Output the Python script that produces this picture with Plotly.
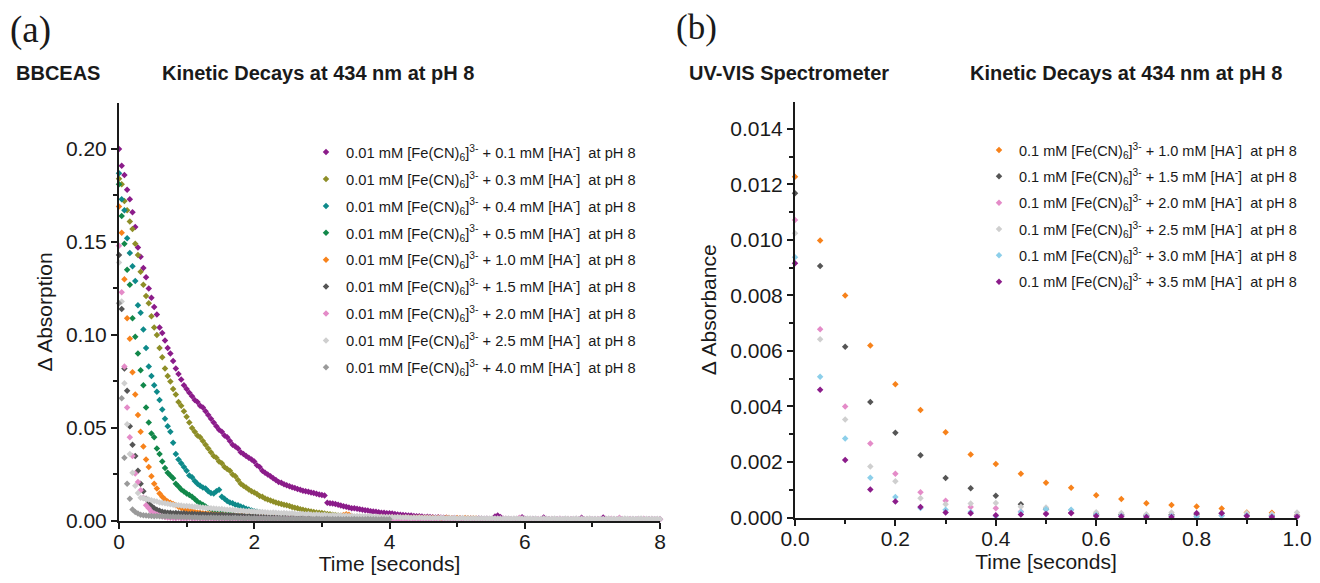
import plotly.graph_objects as go

# ---------------- Panel (a): BBCEAS, sampled every 0.04 s ----------------
DT_A = 0.04

a_labels = ["0.1", "0.3", "0.4", "0.5", "1.0", "1.5", "2.0", "2.5", "4.0"]
a_colors = ["#8B1C8A", "#8E8E27", "#0E8A8A", "#12884A", "#F7821B",
            "#555555", "#E48BC8", "#CFCFCF", "#9A9A9A"]

a_01 = [0.200, 0.191, 0.186, 0.178, 0.173, 0.166, 0.158, 0.147, 0.142, 0.136,
        0.131, 0.125, 0.120, 0.115, 0.111, 0.104, 0.101, 0.097, 0.093, 0.090,
        0.086, 0.082, 0.079, 0.076, 0.073, 0.071, 0.069, 0.067, 0.065, 0.064,
        0.062, 0.061, 0.059, 0.057, 0.055, 0.053, 0.051, 0.049, 0.048, 0.046,
        0.045, 0.043, 0.041, 0.040, 0.039, 0.037, 0.036, 0.035, 0.034, 0.033,
        0.032, 0.030, 0.029, 0.027, 0.026, 0.025, 0.024, 0.023, 0.022, 0.021,
        0.0205, 0.0198, 0.0192, 0.0187, 0.0181, 0.0177, 0.0172, 0.0168, 0.0163, 0.0160,
        0.0157, 0.0153, 0.0150, 0.0146, 0.0143, 0.0140, 0.0137, 0.0098, 0.0096, 0.0094,
        0.0091, 0.0088, 0.0083, 0.0079, 0.0076, 0.0072, 0.0069, 0.0068, 0.0066, 0.0063,
        0.0060, 0.0058, 0.0056, 0.0053, 0.0051, 0.0050, 0.0047, 0.0045, 0.0044, 0.0042,
        0.0041, 0.0040, 0.0037, 0.0035, 0.0034, 0.0032, 0.0031, 0.0030, 0.0029, 0.0027,
        0.0026, 0.0025, 0.0024, 0.0022, 0.0023, 0.0021, 0.0020, 0.0019, 0.0020, 0.0018,
        0.0017, 0.0018, 0.0016, 0.0015, 0.0016, 0.0014, 0.0015, 0.0013, 0.0014, 0.0012,
        0.0013, 0.0012, 0.0011, 0.0013, 0.0012, 0.0011, 0.0012, 0.0010, 0.0011, 0.0024,
        0.0030, 0.0021, 0.0012, 0.0010, 0.0011, 0.0009,
        0.0010, 0.0009, 0.0011, 0.0020, 0.0012, 0.0010, 0.0009, 0.0011, 0.0010, 0.0008,
        0.0010, 0.0019, 0.0011, 0.0009, 0.0010, 0.0008, 0.0009, 0.0011, 0.0010, 0.0009,
        0.0008, 0.0010, 0.0009, 0.0011, 0.0008, 0.0018, 0.0010, 0.0009, 0.0008, 0.0010,
        0.0009, 0.0008, 0.0010, 0.0019, 0.0011, 0.0009, 0.0008, 0.0009, 0.0010, 0.0008,
        0.0009, 0.0010, 0.0008, 0.0009, 0.0008, 0.0010, 0.0009, 0.0008, 0.0009, 0.0008,
        0.0009, 0.0008, 0.0010, 0.0008, 0.0009]

a_03 = [0.184, 0.181, 0.172, 0.167, 0.161, 0.157, 0.149, 0.143, 0.134, 0.127,
        0.121, 0.117, 0.110, 0.104, 0.100, 0.093, 0.088, 0.082, 0.078, 0.075,
        0.071, 0.068, 0.064, 0.062, 0.059, 0.056, 0.053, 0.050, 0.048, 0.046,
        0.045, 0.043, 0.041, 0.039, 0.037, 0.035, 0.034, 0.032, 0.031, 0.029,
        0.028, 0.027, 0.025, 0.024, 0.022, 0.020, 0.019, 0.018, 0.017, 0.016,
        0.0153, 0.0145, 0.0135, 0.0130, 0.0121, 0.0115, 0.0110, 0.0105, 0.0100, 0.0096,
        0.0092, 0.0088, 0.0084, 0.0080, 0.0075, 0.0071, 0.0068, 0.0063, 0.0060, 0.0057,
        0.0054, 0.0051, 0.0048, 0.0046, 0.0045, 0.0043, 0.0040, 0.0038, 0.0036, 0.0034,
        0.0032, 0.0030, 0.0028, 0.0026, 0.0025, 0.0023, 0.0022]

a_04 = [0.187, 0.173, 0.167, 0.152, 0.144, 0.137, 0.129, 0.116, 0.112, 0.103,
        0.093, 0.083, 0.078, 0.073, 0.0695, 0.065, 0.060, 0.055, 0.051, 0.048,
        0.042, 0.036, 0.033, 0.031, 0.029, 0.027, 0.0245, 0.0235, 0.0215, 0.0200,
        0.0190, 0.0180, 0.0175, 0.0160, 0.0150, 0.0148, 0.0160, 0.0168, 0.0130, 0.0120,
        0.0108, 0.0100, 0.0095, 0.0088, 0.0085, 0.0078, 0.0072, 0.0066, 0.0062, 0.0057,
        0.0053, 0.0050, 0.0047, 0.0044, 0.0040]

a_05 = [0.181, 0.164, 0.149, 0.135, 0.127, 0.109, 0.099, 0.090, 0.081, 0.073,
        0.061, 0.053, 0.047, 0.045, 0.039, 0.036, 0.032, 0.0285, 0.026, 0.0245,
        0.023, 0.020, 0.0185, 0.017, 0.0158, 0.0148, 0.014, 0.013, 0.0118, 0.0105,
        0.0095, 0.0088, 0.0078, 0.0069, 0.0062, 0.0057, 0.0052, 0.0049, 0.0045, 0.0041,
        0.0038, 0.0035, 0.0033, 0.0030, 0.0029, 0.0027, 0.0025, 0.0024, 0.0022, 0.0021,
        0.0020, 0.0019, 0.0018, 0.0018, 0.0016, 0.0017, 0.0015, 0.0014, 0.0015, 0.0013, 0.0012]

a_10 = [0.169, 0.155, 0.130, 0.109, 0.098, 0.080, 0.068, 0.057, 0.048, 0.040,
        0.033, 0.029, 0.024, 0.020, 0.0175, 0.0148, 0.0130, 0.0115, 0.0105, 0.0098,
        0.0092, 0.0085, 0.0077, 0.0070, 0.0066, 0.0062, 0.0056, 0.0052, 0.0049, 0.0046,
        0.0044, 0.0042, 0.0040, 0.0039, 0.0037, 0.0036, 0.0035, 0.0034, 0.0033, 0.0032,
        0.0031, 0.0030, 0.0031, 0.0029, 0.0028, 0.0029, 0.0028, 0.0027, 0.0028, 0.0026,
        0.0027, 0.0025, 0.0026, 0.0027, 0.0025, 0.0024, 0.0026, 0.0025, 0.0023, 0.0024,
        0.0025, 0.0023, 0.0024, 0.0022, 0.0023, 0.0025, 0.0022, 0.0023, 0.0021, 0.0022,
        0.0024, 0.0022, 0.0021, 0.0023, 0.0022, 0.0020, 0.0021, 0.0023, 0.0021, 0.0020,
        0.0022, 0.0021, 0.0026, 0.0032, 0.0036, 0.0033, 0.0027, 0.0022, 0.0020, 0.0021,
        0.0019, 0.0020, 0.0022, 0.0019, 0.0018, 0.0020, 0.0019, 0.0021, 0.0018, 0.0019,
        0.0018, 0.0020, 0.0017, 0.0019, 0.0018, 0.0017, 0.0019, 0.0018, 0.0016, 0.0018,
        0.0017, 0.0019, 0.0016, 0.0017, 0.0018, 0.0016, 0.0017, 0.0015, 0.0017, 0.0016,
        0.0015, 0.0017, 0.0016, 0.0015, 0.0014, 0.0016, 0.0015, 0.0014, 0.0016, 0.0015,
        0.0014, 0.0015, 0.0013]

a_15 = [0.143, 0.114, 0.082, 0.070, 0.051, 0.041, 0.035, 0.027, 0.020, 0.016,
        0.012, 0.0095, 0.0080, 0.0068, 0.0060, 0.0055, 0.0050, 0.0047, 0.0045, 0.0044,
        0.0042, 0.0043, 0.0041, 0.0040, 0.0041, 0.0039, 0.0038, 0.0039, 0.0037, 0.0036,
        0.0037, 0.0035, 0.0036, 0.0034, 0.0035, 0.0033, 0.0034, 0.0032, 0.0033, 0.0031,
        0.0032, 0.0030, 0.0031, 0.0029, 0.0030, 0.0028, 0.0029, 0.0027, 0.0028, 0.0026,
        0.0027, 0.0025, 0.0026, 0.0024, 0.0025, 0.0023, 0.0024, 0.0022, 0.0023, 0.0021,
        0.0022, 0.0020, 0.0021, 0.0019, 0.0020, 0.0018, 0.0019, 0.0017, 0.0018, 0.0016,
        0.0017, 0.0016, 0.0015, 0.0017, 0.0016, 0.0014, 0.0015, 0.0016, 0.0014, 0.0015,
        0.0013, 0.0014, 0.0015, 0.0013, 0.0014, 0.0012, 0.0013, 0.0014, 0.0012, 0.0013, 0.0012]

a_20 = [0.148, 0.123, 0.083, 0.061, 0.045, 0.035, 0.0255, 0.021, 0.0165, 0.0125,
        0.0085, 0.0068, 0.0050, 0.0040, 0.0035, 0.0028, 0.0024, 0.0021, 0.0019, 0.0017,
        0.0016, 0.0015, 0.0017, 0.0014, 0.0015, 0.0013, 0.0016, 0.0014, 0.0013, 0.0015,
        0.0014, 0.0012, 0.0014, 0.0013, 0.0015, 0.0012, 0.0013, 0.0014, 0.0012, 0.0013,
        0.0011, 0.0013, 0.0012, 0.0014, 0.0011, 0.0012, 0.0013, 0.0011, 0.0012, 0.0010,
        0.0012, 0.0011, 0.0013, 0.0010, 0.0011, 0.0012, 0.0010, 0.0011, 0.0013, 0.0010,
        0.0011, 0.0010, 0.0012, 0.0011, 0.0010, 0.0012, 0.0009, 0.0011, 0.0010, 0.0012,
        0.0010, 0.0009, 0.0011, 0.0010, 0.0012, 0.0009, 0.0010, 0.0011, 0.0009, 0.0010,
        0.0012, 0.0010, 0.0009, 0.0011, 0.0010, 0.0009, 0.0011, 0.0010, 0.0012, 0.0009,
        0.0010, 0.0011, 0.0009, 0.0010, 0.0012, 0.0020, 0.0011, 0.0009, 0.0010, 0.0011,
        0.0009, 0.0010, 0.0011, 0.0009, 0.0010, 0.0012, 0.0010, 0.0009, 0.0011, 0.0010,
        0.0009, 0.0011, 0.0010, 0.0012, 0.0009, 0.0010, 0.0011, 0.0009, 0.0010, 0.0019,
        0.0011, 0.0009, 0.0010, 0.0011, 0.0009, 0.0010, 0.0012, 0.0009, 0.0010, 0.0011,
        0.0010, 0.0009, 0.0011, 0.0010, 0.0012, 0.0009, 0.0010, 0.0011, 0.0009, 0.0010,
        0.0011, 0.0009, 0.0010, 0.0012, 0.0010, 0.0009, 0.0011, 0.0010, 0.0018, 0.0012,
        0.0010, 0.0009, 0.0011, 0.0010, 0.0009, 0.0011, 0.0010, 0.0012, 0.0009, 0.0010,
        0.0011, 0.0009, 0.0010, 0.0012, 0.0010, 0.0009, 0.0011, 0.0010, 0.0009, 0.0011,
        0.0010, 0.0012, 0.0009, 0.0010, 0.0011, 0.0009, 0.0010, 0.0011, 0.0010, 0.0009,
        0.0011, 0.0010, 0.0012, 0.0009, 0.0010, 0.0018, 0.0011, 0.0010, 0.0009, 0.0011,
        0.0010, 0.0009, 0.0011, 0.0010, 0.0012, 0.0009, 0.0010, 0.0011, 0.0009, 0.0010,
        0.0011]

a_25 = [0.139, 0.118, 0.074, 0.052, 0.036, 0.026, 0.019, 0.015, 0.0125, 0.0122,
        0.0118, 0.0115, 0.0112, 0.0108, 0.0105, 0.0100, 0.0098, 0.0095, 0.0093, 0.0090,
        0.0088, 0.0086, 0.0085, 0.0083, 0.0081, 0.0080, 0.0079, 0.0078, 0.0077, 0.0076,
        0.0074, 0.0072, 0.0071, 0.0070, 0.0068, 0.0067, 0.0066, 0.0065, 0.0064, 0.0062,
        0.0061, 0.0060, 0.0059, 0.0058, 0.0057, 0.0056, 0.0055, 0.0053, 0.0054, 0.0052,
        0.0051, 0.0050, 0.0049, 0.0048, 0.0047, 0.0046, 0.0045, 0.0046, 0.0044, 0.0043,
        0.0042, 0.0043, 0.0041, 0.0040, 0.0041, 0.0039, 0.0038, 0.0039, 0.0037, 0.0036,
        0.0037, 0.0035, 0.0034, 0.0035, 0.0033, 0.0032, 0.0033, 0.0031, 0.0030, 0.0031,
        0.0030, 0.0029, 0.0030, 0.0028, 0.0029, 0.0027, 0.0028, 0.0026, 0.0027, 0.0025,
        0.0026, 0.0025, 0.0024, 0.0025, 0.0023, 0.0024, 0.0022, 0.0023, 0.0022, 0.0021,
        0.0022, 0.0021, 0.0020, 0.0021, 0.0020, 0.0019, 0.0020, 0.0019, 0.0018, 0.0019,
        0.0018, 0.0019, 0.0017, 0.0018, 0.0017, 0.0018, 0.0016, 0.0017, 0.0016, 0.0017,
        0.0016, 0.0015, 0.0016, 0.0015, 0.0016, 0.0014, 0.0015, 0.0016, 0.0014, 0.0015,
        0.0014, 0.0015, 0.0013, 0.0014, 0.0015, 0.0013, 0.0014, 0.0013, 0.0015, 0.0014,
        0.0013, 0.0014, 0.0012, 0.0013, 0.0014, 0.0012, 0.0013, 0.0014, 0.0012, 0.0013,
        0.0012, 0.0013, 0.0014, 0.0012, 0.0013, 0.0011, 0.0012, 0.0013, 0.0012, 0.0011,
        0.0012, 0.0013, 0.0011, 0.0012, 0.0011, 0.0013, 0.0012, 0.0011, 0.0012, 0.0013,
        0.0011, 0.0012, 0.0011, 0.0012, 0.0013, 0.0011, 0.0012, 0.0011, 0.0012, 0.0011,
        0.0012, 0.0013, 0.0011, 0.0012, 0.0011, 0.0012, 0.0011, 0.0013, 0.0012, 0.0011,
        0.0012, 0.0011, 0.0012, 0.0013, 0.0011, 0.0012, 0.0011, 0.0012, 0.0011, 0.0012,
        0.0011]

a_40 = [0.117, 0.066, 0.034, 0.020, 0.012, 0.0062, 0.0048, 0.0040, 0.0034, 0.0031,
        0.0029, 0.0028, 0.0027, 0.0026, 0.0027, 0.0025, 0.0026, 0.0024, 0.0025, 0.0023,
        0.0024, 0.0022, 0.0023, 0.0021, 0.0022, 0.0020, 0.0021, 0.0019, 0.0020, 0.0019,
        0.0018, 0.0019, 0.0017, 0.0018, 0.0019, 0.0017, 0.0018, 0.0016, 0.0017, 0.0016,
        0.0017, 0.0015, 0.0016, 0.0017, 0.0015, 0.0016, 0.0014, 0.0015, 0.0016, 0.0014,
        0.0015, 0.0014, 0.0013, 0.0015, 0.0014, 0.0013, 0.0014, 0.0012, 0.0013, 0.0014,
        0.0012, 0.0013, 0.0012, 0.0011, 0.0013, 0.0012, 0.0011, 0.0012, 0.0013, 0.0011,
        0.0012, 0.0011, 0.0010, 0.0012, 0.0011, 0.0010, 0.0011, 0.0012, 0.0010, 0.0011,
        0.0010, 0.0011, 0.0009, 0.0010, 0.0011, 0.0009, 0.0010, 0.0011, 0.0009, 0.0010,
        0.0009, 0.0010, 0.0011, 0.0009, 0.0010, 0.0009, 0.0008, 0.0010, 0.0009, 0.0008,
        0.0009]

a_series = [a_01, a_03, a_04, a_05, a_10, a_15, a_20, a_25, a_40]

# ---------------- Panel (b): UV-VIS, sampled every 0.05 s ----------------
time_b = [0.00, 0.05, 0.10, 0.15, 0.20, 0.25, 0.30, 0.35, 0.40, 0.45, 0.50,
          0.55, 0.60, 0.65, 0.70, 0.75, 0.80, 0.85, 0.90, 0.95, 1.00]

b_labels = ["1.0", "1.5", "2.0", "2.5", "3.0", "3.5"]
b_colors = ["#F7821B", "#555555", "#E48BC8", "#CFCFCF", "#8CCFEA", "#8B1C8A"]

b_10 = [0.01228, 0.00998, 0.00800, 0.00620, 0.00480, 0.00387, 0.00307, 0.00227, 0.00193, 0.00158,
        0.00125, 0.00107, 0.00080, 0.00067, 0.00051, 0.00045, 0.00040, 0.00032, 0.00018, 0.00017, 0.00007]
b_15 = [0.01168, 0.00906, 0.00615, 0.00416, 0.00305, 0.00224, 0.00142, 0.00105, 0.00078, 0.00048,
        0.00030, 0.00016, 0.00012, 0.00010, 0.00008, 0.00010, 0.00010, 0.00015, 0.00007, 0.00007, 0.00007]
b_20 = [0.01072, 0.00678, 0.00400, 0.00267, 0.00158, 0.00091, 0.00060, 0.00038, 0.00033, 0.00022,
        0.00015, 0.00015, 0.00008, 0.00007, 0.00005, 0.00006, 0.00004, 0.00007, 0.00006, 0.00003, 0.00005]
b_25 = [0.01024, 0.00642, 0.00353, 0.00184, 0.00131, 0.00069, 0.00048, 0.00050, 0.00052, 0.00039,
        0.00036, 0.00027, 0.00019, 0.00016, 0.00012, 0.00018, 0.00016, 0.00015, 0.00016, 0.00013, 0.00018]
b_30 = [0.00938, 0.00507, 0.00285, 0.00143, 0.00074, 0.00034, 0.00028, 0.00020, 0.00005, 0.00020,
        0.00030, 0.00028, 0.00010, 0.00006, 0.00004, 0.00005, 0.00003, 0.00006, 0.00008, 0.00005, 0.00004]
b_35 = [0.00916, 0.00460, 0.00207, 0.00101, 0.00058, 0.00038, 0.00018, 0.00015, 0.00008, 0.00011,
        0.00013, 0.00016, 0.00005, 0.00004, 0.00002, 0.00002, 0.00015, 0.00015, 0.00005, 0.00002, 0.00003]

b_series = [b_10, b_15, b_20, b_25, b_30, b_35]

# ---------------- Figure ----------------
# The page body has an 8 px margin; the figure is sized so that page plus margins
# fit exactly inside the 1320x583 window (no scrolling / clipping).
W, H = 1304, 567
FONT = "Liberation Sans, Arial, sans-serif"
SERIF = "Liberation Serif, Times New Roman, serif"
INK = "#1a1a1a"

def px_x(p):
    return p / W

def px_y(p):
    return 1 - p / H

fig = go.Figure()

for lab, col, vals in zip(a_labels, a_colors, a_series):
    t = [round(i * DT_A, 2) for i in range(len(vals))]
    fig.add_trace(go.Scatter(
        x=t, y=vals, mode="markers", xaxis="x", yaxis="y", legend="legend",
        legendgroup="a" + lab,
        name=f"0.01 mM [Fe(CN)<sub>6</sub>]<sup>3-</sup> + {lab} mM [HA<sup>-</sup>]  at pH 8",
        marker=dict(symbol="diamond", size=5, color=col, line=dict(width=0)),
        cliponaxis=False,
    ))

for lab, col, vals in zip(b_labels, b_colors, b_series):
    fig.add_trace(go.Scatter(
        x=time_b, y=vals, mode="markers", xaxis="x2", yaxis="y2", legend="legend2",
        legendgroup="b" + lab,
        name=f"0.1 mM [Fe(CN)<sub>6</sub>]<sup>3-</sup> + {lab} mM [HA<sup>-</sup>]  at pH 8",
        marker=dict(symbol="diamond", size=5, color=col, line=dict(width=0)),
        cliponaxis=False,
    ))

axis_common = dict(
    showline=True, linewidth=2, linecolor=INK, mirror=False,
    ticks="outside", ticklen=6, tickwidth=2, tickcolor=INK,
    showgrid=False, zeroline=False, automargin=False,
    tickfont=dict(family=FONT, size=21, color=INK),
)
title_font = dict(family=FONT, size=21, color=INK)

fig.update_layout(
    width=W, height=H,
    margin=dict(l=0, r=0, t=0, b=0, autoexpand=False),
    paper_bgcolor="white", plot_bgcolor="white",
    font=dict(family=FONT, color=INK),
    xaxis=dict(domain=[px_x(111), px_x(652)], range=[0, 8], dtick=2, anchor="y",
               ticklabelstandoff=-5,
               minor=dict(dtick=1, ticks="outside", ticklen=4, tickwidth=2, tickcolor=INK),
               title=dict(text="Time [seconds]", font=title_font, standoff=4),
               **axis_common),
    yaxis=dict(domain=[px_y(513), px_y(95)], range=[0, 0.2247], dtick=0.05, tickformat=".2f",
               anchor="x",
               minor=dict(dtick=0.025, ticks="outside", ticklen=4, tickwidth=2, tickcolor=INK),
               title=dict(text="Δ Absorption", font=title_font, standoff=8),
               **axis_common),
    xaxis2=dict(domain=[px_x(787), px_x(1289)], range=[0, 1], dtick=0.2, tickformat=".1f",
                anchor="y2", ticklabelstandoff=-5,
                minor=dict(dtick=0.1, ticks="outside", ticklen=4, tickwidth=2, tickcolor=INK),
                title=dict(text="Time [seconds]", font=title_font, standoff=4),
                **axis_common),
    yaxis2=dict(domain=[px_y(509.5), px_y(94)], range=[0, 0.01497], dtick=0.002, tickformat=".3f",
                anchor="x2",
                minor=dict(dtick=0.001, ticks="outside", ticklen=4, tickwidth=2, tickcolor=INK),
                title=dict(text="Δ Absorbance", font=title_font, standoff=8),
                **axis_common),
    legend=dict(x=px_x(298), y=px_y(128), xanchor="left", yanchor="top",
                font=dict(family=FONT, size=14.7, color=INK), bgcolor="rgba(0,0,0,0)",
                tracegroupgap=4.8, itemsizing="trace"),
    legend2=dict(x=px_x(971), y=px_y(126), xanchor="left", yanchor="top",
                 font=dict(family=FONT, size=14.5, color=INK), bgcolor="rgba(0,0,0,0)",
                 tracegroupgap=4.5, itemsizing="trace"),
)

heads = [
    ("(a)", 0, 22, "left", dict(family=SERIF, size=37, color=INK)),
    ("<b>BBCEAS</b>", 49.5, 65, "center", dict(family=FONT, size=20, color=INK)),
    ("<b>Kinetic Decays at 434 nm at pH 8</b>", 310, 65, "center", dict(family=FONT, size=20, color=INK)),
    ("(b)", 666, 19, "left", dict(family=SERIF, size=35, color=INK)),
    ("<b>UV-VIS Spectrometer</b>", 780.5, 65, "center", dict(family=FONT, size=20, color=INK)),
    ("<b>Kinetic Decays at 434 nm at pH 8</b>", 1117.5, 65, "center", dict(family=FONT, size=20, color=INK)),
]
for txt, x, y, anch, f in heads:
    fig.add_annotation(text=txt, x=px_x(x), y=px_y(y), xref="paper", yref="paper",
                       xanchor=anch, yanchor="middle", showarrow=False, font=f)

fig.write_html("out.html")
